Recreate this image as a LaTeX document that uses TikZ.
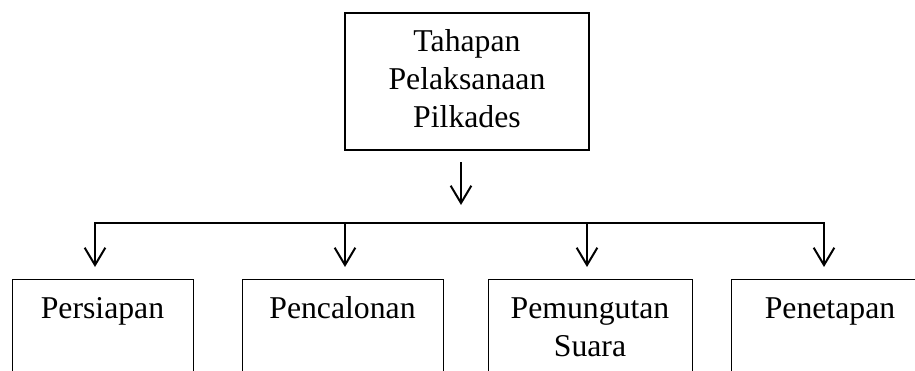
\documentclass[tikz,border=0pt]{standalone}
\usepackage{fontspec}
\setmainfont{Liberation Serif}
\usetikzlibrary{arrows.meta}
\begin{document}
\begin{tikzpicture}[x=0.75pt,y=-0.75pt,
  boxstyle/.style={draw=black, line width=0.8pt, rectangle, inner sep=0pt},
  txt/.style={font=\fontsize{23.8pt}{28.5pt}\selectfont, inner sep=0pt, align=center},
  arr/.style={line width=1.5pt, -{Straight Barb[length=13pt,width=15.5pt]}},
  busline/.style={line width=1.5pt, line cap=rect}]
\useasboundingbox (0,0) rectangle (915,371);
\clip (0,0) rectangle (915,371);
% top box
\node[boxstyle, minimum width=244*0.75pt, minimum height=137*0.75pt] (top) at (467,81.5) {};
\node[txt] (ttxt) at (467,79) {Tahapan\\Pelaksanaan\\Pilkades};
% bottom boxes
\node[boxstyle, anchor=north west, minimum width=181*0.75pt, minimum height=150*0.75pt] (b1) at (12,279) {};
\node[boxstyle, anchor=north west, minimum width=201*0.75pt, minimum height=150*0.75pt] (b2) at (242,279) {};
\node[boxstyle, anchor=north west, minimum width=204*0.75pt, minimum height=150*0.75pt] (b3) at (488,279) {};
\node[boxstyle, anchor=north west, minimum width=198*0.75pt, minimum height=150*0.75pt] (b4) at (731,279) {};
% texts
\node[txt, anchor=base] (l1) at (102.5,318) {Persiapan};
\node[txt, anchor=base] (l2) at (342.5,318) {Pencalonan};
\node[txt, anchor=north] (l3) at (590,297) {Pemungutan\\Suara};
\node[txt, anchor=base] (l4) at (830,318) {Penetapan};
% arrow from top box
\coordinate (a1) at (461,162);
\coordinate (a2) at (461,205);
\draw[arr] (a1) -- (a2);
% bus
\coordinate (j1) at (95,223);
\coordinate (j2) at (345,223);
\coordinate (j3) at (587,223);
\coordinate (j4) at (824,223);
\draw[busline] (j1) -- (j4);
\draw[arr, shorten >=9pt] (j1) -- (j1 |- b1.north);
\draw[arr, shorten >=9pt] (j2) -- (j2 |- b2.north);
\draw[arr, shorten >=9pt] (j3) -- (j3 |- b3.north);
\draw[arr, shorten >=9pt] (j4) -- (j4 |- b4.north);
\end{tikzpicture}
\end{document}
